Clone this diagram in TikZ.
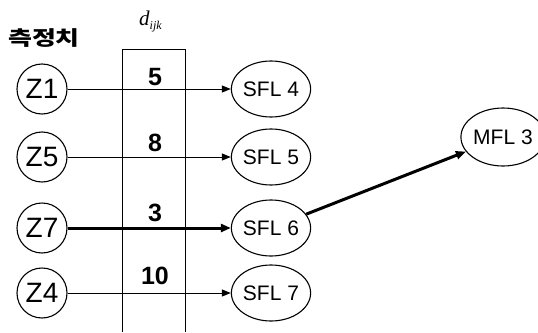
\documentclass[tikz,border=0pt]{standalone}
\usepackage{fontspec}
\setmainfont{Liberation Sans}
\newfontfamily\krfont{Noto Sans CJK KR}
\newfontfamily\serifit{Liberation Serif}
\usetikzlibrary{arrows.meta,shapes.geometric}
\begin{document}
\begin{tikzpicture}[x=1pt,y=-1pt,
  zcirc/.style={circle,draw,line width=1.1pt,minimum size=50pt,inner sep=0pt,font=\fontsize{28}{28}\selectfont},
  sfl/.style={ellipse,draw,line width=1.1pt,minimum width=76pt,minimum height=56pt,inner sep=0pt,font=\fontsize{21}{21}\selectfont},
  num/.style={font=\fontsize{25}{25}\selectfont\bfseries,inner sep=0pt},
  thinarr/.style={line width=1pt,-{Triangle[length=9pt,width=7pt]}},
  thickarr/.style={line width=3pt,-{Triangle[length=10pt,width=8pt]}},
  boxline/.style={line width=1pt}]
\useasboundingbox (0,0) rectangle (538,332);
\fill[white] (0,0) rectangle (538,332);
% header
\node[inner sep=0pt] (hdr) at (44,38) {\scalebox{1.3}[1]{\krfont\bfseries\fontsize{20}{20}\selectfont 측정치}};
\node[inner sep=0pt,anchor=base west] (dijk) at (139,25) {\serifit\itshape\fontsize{21}{21}\selectfont d\raisebox{-4pt}{\fontsize{12}{12}\selectfont ijk}};
% box
\coordinate (bl) at (122,332);
\coordinate (tl) at (122,49);
\coordinate (tr) at (185,49);
\coordinate (br) at (185,332);
\draw[boxline] (bl) -- (tl) -- (tr) -- (br);
% sources
\node[zcirc] (z1) at (42,89) {Z1};
\node[zcirc] (z5) at (42,157) {Z5};
\node[zcirc] (z7) at (42,228) {Z7};
\node[zcirc] (z4) at (42,293) {Z4};
% SFL
\node[sfl] (s4) at (271,89) {SFL 4};
\node[sfl] (s5) at (271,157) {SFL 5};
\node[sfl] (s6) at (271,228) {SFL 6};
\node[sfl] (s7) at (271,293) {SFL 7};
\node[sfl,minimum width=72pt,minimum height=58pt] (m3) at (503,137) {MFL 3};
% numbers
\node[num] (n1) at (155,77) {5};
\node[num] (n2) at (155,143) {8};
\node[num] (n3) at (155,213) {3};
\node[num] (n4) at (155,276) {10};
% arrows
\draw[thinarr] (z1) -- (s4);
\draw[thinarr] (z5) -- (s5);
\draw[thickarr] (z7) -- (s6);
\draw[thinarr] (z4) -- (s7);
\draw[thickarr] (s6) -- (m3);
\end{tikzpicture}
\end{document}
